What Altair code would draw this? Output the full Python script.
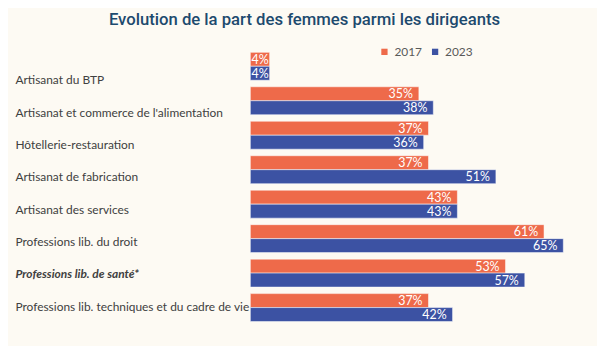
import json
import altair as alt
import pandas as pd

categories = [
    "Artisanat du BTP",
    "Artisanat et commerce de l'alimentation",
    "Hôtellerie-restauration",
    "Artisanat de fabrication",
    "Artisanat des services",
    "Professions lib. du droit",
    "Professions lib. de santé*",
    "Professions lib. techniques et du cadre de vie",
]
years = ["2017", "2023"]
values_2017 = [4, 35, 37, 37, 43, 61, 53, 37]
values_2023 = [4, 38, 36, 51, 43, 65, 57, 42]

rows = []
for c, a, b in zip(categories, values_2017, values_2023):
    rows.append({"cat": c, "year": "2017", "value": a})
    rows.append({"cat": c, "year": "2023", "value": b})
df = pd.DataFrame(rows)
df["label"] = df["value"].astype(str) + "%"

BG = "#fdfaf3"
ORANGE = "#ee6a4a"
BLUE = "#3c52a3"
TEXT = "#404040"
FONT = "Lato"

cats_js = json.dumps(categories, ensure_ascii=False)
special = "Professions lib. de santé*"

y_enc = alt.Y(
    "cat:N",
    sort=categories,
    scale=alt.Scale(paddingInner=0.19, paddingOuter=0.1),
    axis=alt.Axis(
        title=None,
        domain=False,
        ticks=False,
        grid=False,
        labelAlign="left",
        labelPadding=237,
        labelFont=FONT,
        labelFontSize=12,
        labelColor=TEXT,
        labelLimit=0,
        labelOffset={
            "condition": {"test": "false", "value": 0},
            "expr": f"14 - 2.1*indexof({cats_js}, datum.value)",
        },
        labelFontStyle={
            "condition": {"test": f"datum.value == '{special}'", "value": "italic"},
            "value": "normal",
        },
        labelFontWeight={
            "condition": {"test": f"datum.value == '{special}'", "value": "bold"},
            "value": "normal",
        },
    ),
)
x_enc = alt.X("value:Q", scale=alt.Scale(domain=[0, 72], nice=False), axis=None)

base = alt.Chart(df).encode(
    y=y_enc,
    yOffset=alt.YOffset("year:N", sort=years),
    x=x_enc,
)

bars = base.mark_bar(stroke="white", strokeWidth=0.5).encode(
    color=alt.Color(
        "year:N",
        sort=years,
        scale=alt.Scale(domain=years, range=[ORANGE, BLUE]),
        legend=alt.Legend(
            title=None,
            orient="none",
            direction="horizontal",
            legendX=129,
            legendY=-3,
            symbolType="square",
            symbolSize=40,
            symbolStrokeWidth=0,
            labelFont=FONT,
            labelFontSize=12,
            labelColor="#595959",
            labelOffset=4,
            columnPadding=7,
        ),
    )
)

labels = base.mark_text(
    align="right", baseline="middle", dy=0.5, color="white",
    font=FONT, fontSize=12.5,
    dx={"expr": "datum.value < 10 ? -1 : -6"},
).encode(text="label:N")

chart = (
    alt.layer(bars, labels)
    .properties(
        width=349,
        height=278,
        background=BG,
        padding={"left": 244, "top": 40, "right": 0, "bottom": 20},
        autosize=alt.AutoSizeParams(type="none"),
        title=alt.Title(
            "Evolution de la part des femmes parmi les dirigeants",
            font="Roboto",
            fontSize=16.8,
            fontWeight=500,
            color="#1d4a6e",
            anchor="middle",
            dx=-120,
            offset=17,
        ),
    )
    .configure_view(stroke=None)
)

chart.save("out.html", embed_options={"renderer": "svg", "actions": False})
